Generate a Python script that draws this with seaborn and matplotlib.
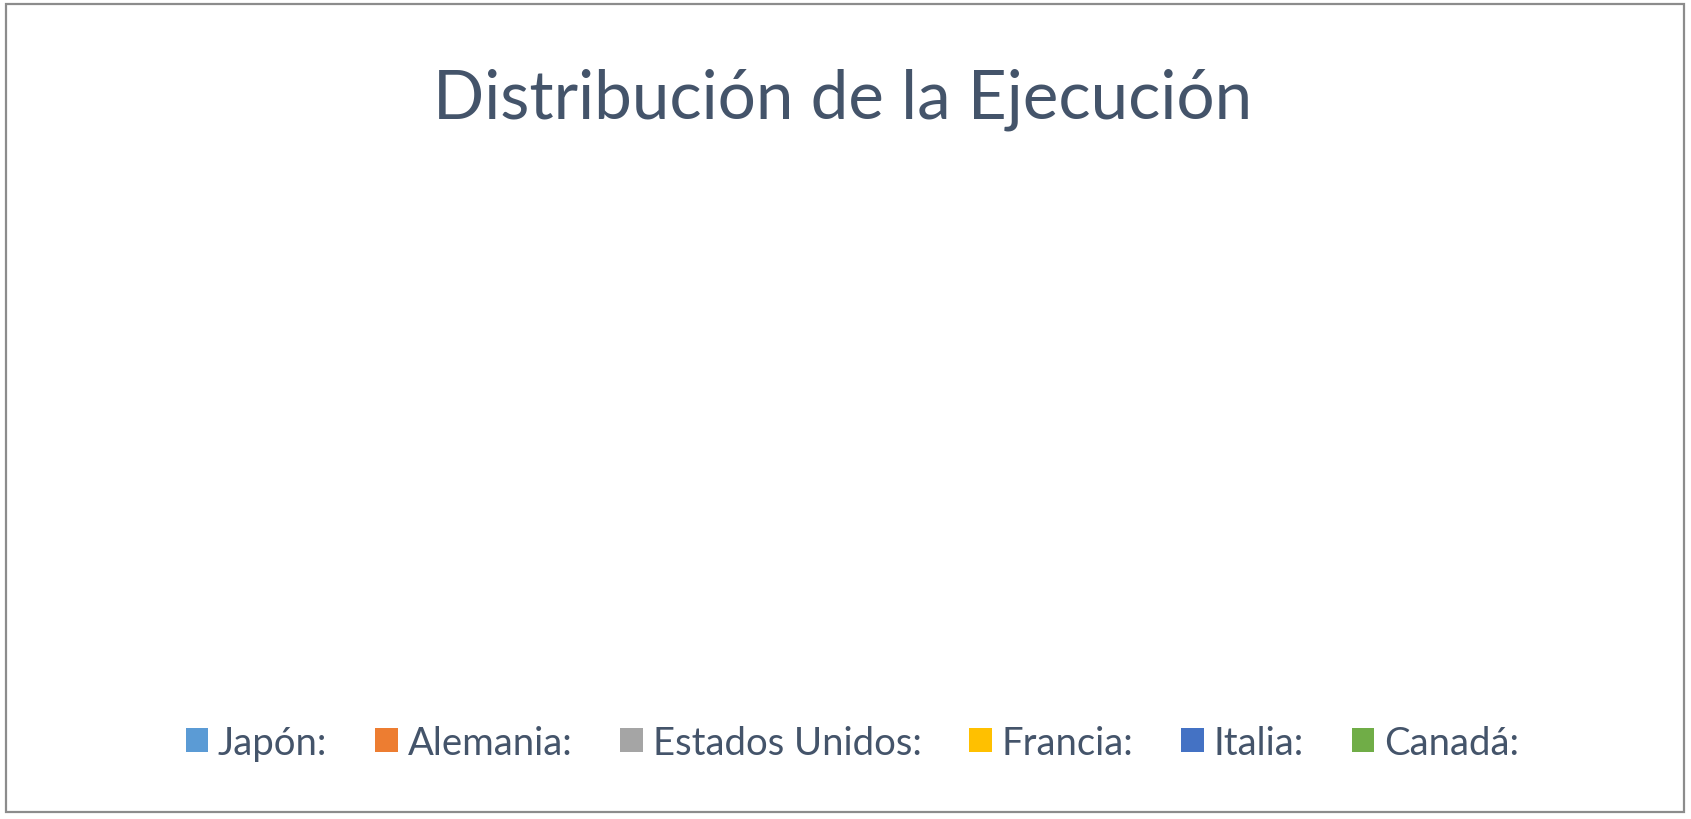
import matplotlib
matplotlib.use("Agg")
import matplotlib.pyplot as plt
from matplotlib.patches import Patch, Rectangle
import seaborn as sns

# Chart data: the source chart has labels but no values filled in
countries = ["Japón:", "Alemania:", "Estados Unidos:", "Francia:", "Italia:", "Canadá:"]
values = [0, 0, 0, 0, 0, 0]
colors = ["#5B9BD5", "#ED7D31", "#A5A5A5", "#FFC000", "#4472C4", "#70AD47"]
title = "Distribución de la Ejecución"

sns.set_theme(style="white")
plt.rcParams["font.family"] = ["Lato", "DejaVu Sans"]
palette = sns.color_palette(colors)
text_color = "#44546A"

fig = plt.figure(figsize=(16.91, 8.20), dpi=100)
ax = fig.add_axes([0.2, 0.15, 0.6, 0.65])
ax.set_aspect("equal")
ax.axis("off")

# pie only shows up when there is something to draw
if sum(values) > 0:
    ax.pie(values, colors=palette, startangle=90, counterclock=False)

fig.text(0.4985, 0.878, title, ha="center", va="center",
         fontsize=48.5, color=text_color)

handles = [Patch(facecolor=c, edgecolor="none") for c in palette]
fig.legend(handles, countries, loc="center", bbox_to_anchor=(0.504, 0.093),
           ncol=len(countries), frameon=False, fontsize=27.5,
           labelcolor=text_color, handlelength=0.6, handleheight=0.6,
           handletextpad=0.25, columnspacing=1.25)

# outer chart border
fig.patches.append(Rectangle((0.0035, 0.009), 0.9925, 0.985, transform=fig.transFigure,
                             fill=False, edgecolor="#8C8C8C", linewidth=1.6))

fig.savefig("out.png", dpi=100, facecolor="white")
